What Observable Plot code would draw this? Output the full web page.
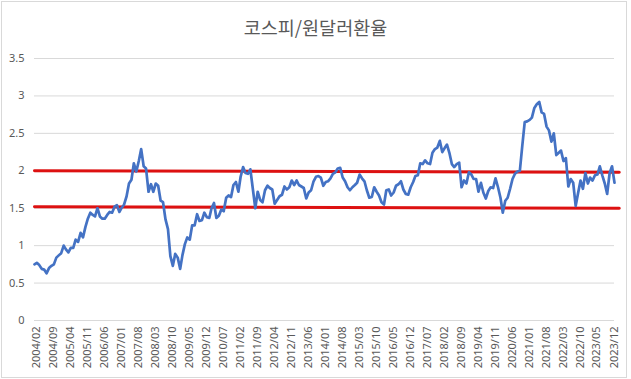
<!DOCTYPE html>
<html><head><meta charset="utf-8">
<script src="https://cdn.jsdelivr.net/npm/d3@7"></script>
<script src="https://cdn.jsdelivr.net/npm/@observablehq/plot@0.6"></script>
<style>
body{margin:0;background:#fff;}
#wrap{position:relative;width:631px;height:379px;overflow:hidden;background:#fff;}
#frame{position:absolute;left:1px;top:1px;width:624px;height:375px;border:1px solid #d9d9d9;pointer-events:none;}
#title{height:45px;box-sizing:border-box;padding-top:15px;line-height:24px;text-align:center;font-family:"Noto Sans CJK KR";font-size:18.5px;color:#595959;}
#chart svg{display:block;}
</style></head><body>
<div id="wrap"><div id="title">코스피/원달러환율</div><div id="chart"></div><div id="frame"></div></div>
<script>
// KOSPI / KRW-USD ratio, monthly, first month below
const firstMonth = "2004/02";
const ratio = [
  0.75, 0.77, 0.74, 0.69, 0.68, 0.63, 0.70, 0.73, 0.75, 0.84, 0.87,            // 2004 (Feb-Dec)
  0.90, 1.00, 0.95, 0.91, 0.97, 0.97, 1.08, 1.05, 1.17, 1.11, 1.25, 1.36,      // 2005
  1.44, 1.41, 1.39, 1.50, 1.39, 1.36, 1.36, 1.41, 1.45, 1.44, 1.52, 1.54,      // 2006
  1.45, 1.51, 1.55, 1.66, 1.83, 1.88, 2.10, 1.99, 2.13, 2.29, 2.06, 2.03,      // 2007
  1.72, 1.82, 1.72, 1.83, 1.80, 1.60, 1.58, 1.35, 1.22, 0.86, 0.73, 0.89,      // 2008
  0.84, 0.69, 0.87, 1.02, 1.11, 1.08, 1.27, 1.27, 1.42, 1.33, 1.34, 1.44,      // 2009
  1.38, 1.37, 1.50, 1.57, 1.37, 1.40, 1.48, 1.46, 1.64, 1.67, 1.65, 1.81,      // 2010
  1.85, 1.72, 1.92, 2.05, 1.97, 1.96, 2.02, 1.76, 1.50, 1.72, 1.61, 1.58,      // 2011
  1.74, 1.80, 1.77, 1.75, 1.56, 1.61, 1.66, 1.68, 1.79, 1.75, 1.78, 1.87,      // 2012
  1.81, 1.87, 1.81, 1.79, 1.77, 1.63, 1.71, 1.74, 1.86, 1.92, 1.93, 1.91,      // 2013
  1.80, 1.85, 1.86, 1.90, 1.96, 1.98, 2.03, 2.04, 1.91, 1.86, 1.78, 1.74,      // 2014
  1.78, 1.81, 1.84, 1.95, 1.90, 1.86, 1.74, 1.64, 1.65, 1.78, 1.72, 1.67,      // 2015
  1.58, 1.55, 1.74, 1.75, 1.67, 1.71, 1.80, 1.82, 1.86, 1.75, 1.69, 1.68,      // 2016
  1.78, 1.85, 1.93, 1.94, 2.10, 2.09, 2.14, 2.10, 2.09, 2.24, 2.29, 2.31,      // 2017
  2.40, 2.25, 2.30, 2.35, 2.24, 2.09, 2.05, 2.09, 2.11, 1.78, 1.87, 1.83,      // 2018
  1.98, 1.95, 1.89, 1.89, 1.72, 1.84, 1.71, 1.63, 1.73, 1.78, 1.77, 1.90,      // 2019
  1.78, 1.64, 1.44, 1.60, 1.64, 1.76, 1.89, 1.96, 1.99, 2.00, 2.34, 2.65,      // 2020
  2.66, 2.68, 2.71, 2.84, 2.89, 2.92, 2.78, 2.76, 2.59, 2.54, 2.39, 2.50,      // 2021
  2.21, 2.24, 2.27, 2.13, 2.17, 1.79, 1.89, 1.84, 1.53, 1.70, 1.87, 1.76,      // 2022
  1.97, 1.83, 1.91, 1.87, 1.94, 1.95, 2.06, 1.94, 1.83, 1.69, 1.97, 2.06,      // 2023
  1.84                                                                         // 2024 (Jan)
];
const tickLabels = ["2004/02","2004/09","2005/04","2005/11","2006/06","2007/01","2007/08","2008/03",
  "2008/10","2009/05","2009/12","2010/07","2011/02","2011/09","2012/04","2012/11","2013/06","2014/01",
  "2014/08","2015/03","2015/10","2016/05","2016/12","2017/07","2018/02","2018/09","2019/04","2019/11",
  "2020/06","2021/01","2021/08","2022/03","2022/10","2023/05","2023/12"];
const yTicks = [0, 0.5, 1, 1.5, 2, 2.5, 3, 3.5];
// two red reference lines: start/end month and values
const redStart = "2004/02", redEnd = "2024/03";
const upperLine = [2.00, 1.98];
const lowerLine = [1.52, 1.50];

const parse = d3.utcParse("%Y/%m");
const start = parse(firstMonth);
const data = ratio.map((v, i) => ({date: d3.utcMonth.offset(start, i), value: v}));
const lastDate = data[data.length - 1].date;
const refs = [
  {g: "upper", date: parse(redStart), value: upperLine[0]},
  {g: "upper", date: parse(redEnd), value: upperLine[1]},
  {g: "lower", date: parse(redStart), value: lowerLine[0]},
  {g: "lower", date: parse(redEnd), value: lowerLine[1]}
];

const chart = Plot.plot({
  width: 631, height: 334,
  marginTop: 13, marginBottom: 59, marginLeft: 34, marginRight: 17,
  style: {fontFamily: "Noto Sans", fontSize: "11px", color: "#595959", background: "transparent"},
  x: {type: "utc", domain: [start, lastDate], label: null},
  y: {domain: [0, 3.5], label: null},
  marks: [
    Plot.gridY(yTicks, {stroke: "#d9d9d9", strokeOpacity: 1}),
    Plot.axisY(yTicks, {tickSize: 0, tickPadding: 10, tickFormat: d => String(d), fill: "#595959"}),
    Plot.axisX(tickLabels.map(parse), {tickSize: 0, tickPadding: 6, dx: 2, tickRotate: -90, tickFormat: d3.utcFormat("%Y/%m"), fill: "#595959"}),
    Plot.line(refs, {x: "date", y: "value", z: "g", stroke: "#dd1111", strokeWidth: 3}),
    Plot.line(data, {x: "date", y: "value", stroke: "#4472C4", strokeWidth: 2.7, strokeLinejoin: "round"})
  ]
});
document.getElementById("chart").appendChild(chart);
</script>
</body></html>
